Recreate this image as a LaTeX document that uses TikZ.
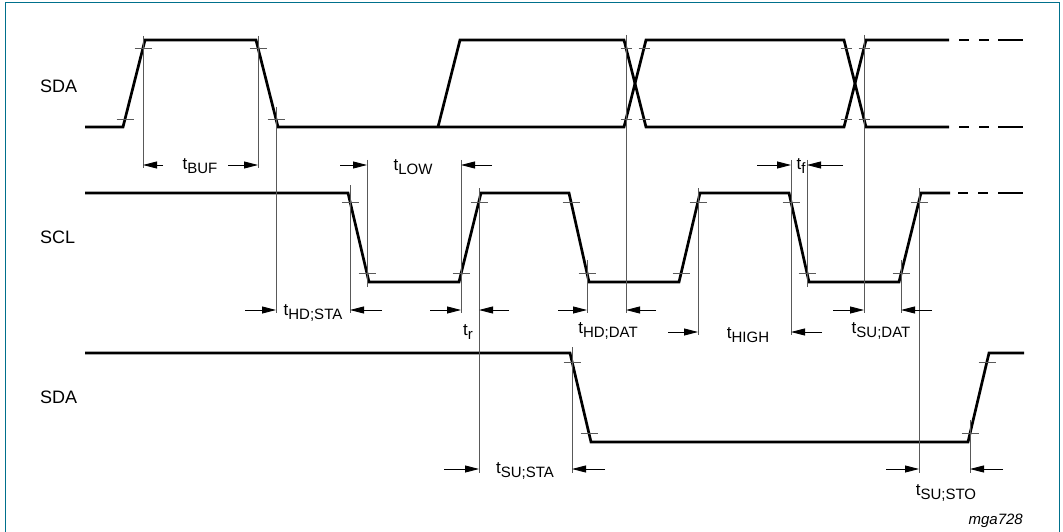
\documentclass[tikz,border=0pt]{standalone}
\usepackage{fontspec}
\setmainfont{Liberation Sans}
\usetikzlibrary{arrows.meta}
\definecolor{framec}{RGB}{0,112,140}
\newcommand{\tl}[1]{t\raisebox{-4pt}{\fontsize{15}{15}\selectfont #1}}
\begin{document}
\begin{tikzpicture}[x=1pt,y=-1pt,
  sig/.style={line width=2.7pt, line join=miter},
  refl/.style={line width=0.8pt, black!65},
  tk/.style={line width=0.8pt, black!65},
  dim/.style={line width=0.9pt, -{Triangle[length=14pt,width=7pt]}},
  lbl/.style={font=\fontsize{17}{17}\selectfont, inner sep=0pt, anchor=base},
  sname/.style={font=\fontsize{18}{18}\selectfont, inner sep=0pt, anchor=west}]
\useasboundingbox (0,0) rectangle (1063,532);
\draw[framec, line width=1.5pt] (5.5,536) -- (5.5,2.5) -- (1059.5,2.5) -- (1059.5,536);

% signal names
\node[sname] (sda1) at (40,86) {SDA};
\node[sname] (scl) at (40,237) {SCL};
\node[sname] (sda2) at (40,397) {SDA};

% top SDA
\draw[sig] (85,127) -- (123,127) -- (145,40) -- (256,40) -- (278,127) -- (624,127) -- (646,40) -- (844,40) -- (866,127) -- (949,127);
\draw[sig] (438,127) -- (460,40) -- (624,40) -- (646,127) -- (844,127) -- (866,40) -- (949,40);
\foreach \y in {40,127} {
  \draw[sig] (959,\y) -- (969,\y);
  \draw[sig] (979,\y) -- (989,\y);
  \draw[sig] (998,\y) -- (1023,\y);
}
% SCL
\draw[sig] (85,193) -- (348,193) -- (369,282) -- (459,282) -- (481,193) -- (569,193) -- (589,282) -- (679,282) -- (700,193) -- (789,193) -- (809,282) -- (899,282) -- (921,193) -- (950,193);
\draw[sig] (958,193) -- (968,193);
\draw[sig] (978,193) -- (988,193);
\draw[sig] (998,193) -- (1023,193);
% bottom SDA
\draw[sig] (85,353) -- (570,353) -- (591,442) -- (968,442) -- (989,353) -- (1024,353);

% ticks
\foreach \x/\y in {125/119,143/48,258/48,276/119,
  350/202,367/273,461/273,479/202,571/202,587/273,681/273,698/202,791/202,807/273,901/273,919/202,
  572/362,589/433,970/433,987/362}
  \draw[tk] (\x-8.5,\y) -- (\x+8.5,\y);
\foreach \x/\y in {626/48,644/48,626/119,644/119,846/48,864/48,846/119,864/119}
  \draw[tk] (\x-5.5,\y) -- (\x+5.5,\y);

% reference lines
\foreach \x/\a/\b in {143/36/168, 258/36/168, 276/107/313, 626/35/313, 864/35/313,
  350/185/313, 367/160/287, 461/160/313, 479/188/473, 587/260/313, 698/188/335,
  791/160/335, 807/160/287, 901/260/313, 919/188/473, 572/347/473, 970/420/473}
  \draw[refl] (\x,\a) -- (\x,\b);

% dimension arrows
\draw[dim] (163,165) -- (143,165);
\draw[dim] (228,165) -- (258,165);
\node[lbl] (tbuf) at (200,170) {\tl{BUF}};

\draw[dim] (340,165) -- (367,165);
\draw[dim] (492,165) -- (461,165);
\node[lbl] (tlow) at (413,171) {\tl{LOW}};

\draw[dim] (757,165) -- (791,165);
\draw[dim] (843,165) -- (807,165);
\node[lbl] (tf) at (801,170) {\tl{f}};

\draw[dim] (245,310) -- (276,310);
\draw[dim] (382,310) -- (350,310);
\node[lbl] (thdsta) at (313,315) {\tl{HD;STA}};

\draw[dim] (430,310) -- (461,310);
\draw[dim] (509,310) -- (479,310);
\node[lbl] (tr) at (468,335) {\tl{r}};

\draw[dim] (558,310) -- (587,310);
\draw[dim] (656,310) -- (626,310);
\node[lbl] (thddat) at (608,333) {\tl{HD;DAT}};

\draw[dim] (833,310) -- (864,310);
\draw[dim] (932,310) -- (901,310);
\node[lbl] (tsudat) at (881,333) {\tl{SU;DAT}};

\draw[dim] (668,332) -- (698,332);
\draw[dim] (822,332) -- (791,332);
\node[lbl] (thigh) at (748,338) {\tl{HIGH}};

\draw[dim] (444,469) -- (479,469);
\draw[dim] (605,469) -- (572,469);
\node[lbl] (tsusta) at (525,473) {\tl{SU;STA}};

\draw[dim] (886,469) -- (919,469);
\draw[dim] (1003,469) -- (970,469);
\node[lbl] (tsusto) at (946,495) {\tl{SU;STO}};

\node[font=\fontsize{15}{15}\selectfont\itshape, inner sep=0pt, anchor=base east] (ref) at (1023,524) {mga728};
\end{tikzpicture}
\end{document}
